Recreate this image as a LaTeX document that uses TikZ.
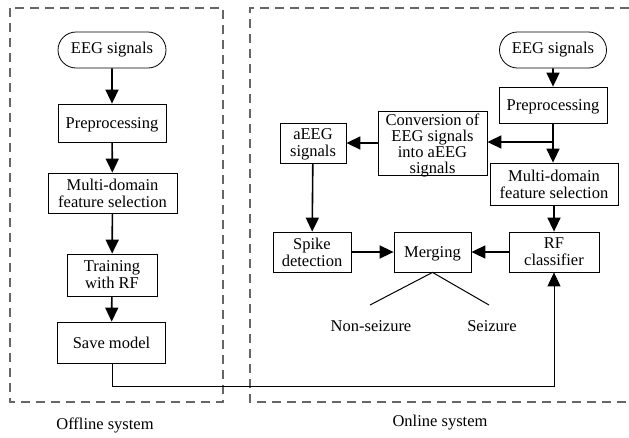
\documentclass[tikz,border=0pt]{standalone}
\usepackage{fontspec}
\setmainfont{Liberation Serif}
\usetikzlibrary{arrows.meta,shapes.misc}
\begin{document}
\begin{tikzpicture}[x=1pt,y=-1pt,
  every node/.style={font=\fontsize{16.5}{17}\selectfont, inner sep=0pt, align=center},
  box/.style={draw, line width=0.8pt, text depth=0pt},
  term/.style={draw, line width=0.8pt, rounded rectangle},
  flow/.style={line width=1.6pt, -{Triangle[length=14pt,width=13pt]}},
  thinflow/.style={line width=1pt, -{Triangle[length=14pt,width=13pt]}},
  frame/.style={draw=black!60, line width=1.3pt, dash pattern=on 9pt off 6pt},
  lbl/.style={}]
\useasboundingbox (0,0) rectangle (629,437);
% frames
\draw[frame] (10,8) rectangle (223,402);
\draw[frame] (629,8) -- (250,8) -- (250,402) -- (629,402);
\node[lbl] (offl) at (105,425) {Offline system};
\node[lbl] (onl) at (440,423) {Online system};
% offline column
\node[term, minimum width=108pt, minimum height=36pt] (lEEG) at (112,50) {EEG signals};
\node[box, minimum width=108pt, minimum height=38pt] (lPre) at (112,123) {Preprocessing};
\node[box, minimum width=129pt, minimum height=40pt] (lMulti) at (112.5,193) {Multi-domain\\feature selection};
\node[box, minimum width=90pt, minimum height=42pt] (lTrain) at (112,275) {Training\\with RF};
\node[box, minimum width=108pt, minimum height=41pt] (lSave) at (111.5,342.5) {Save model};
\draw[flow] (lEEG) -- (lPre);
\draw[flow] (lPre) -- (lMulti);
\draw[flow] (lMulti) -- (lTrain);
\draw[flow] (lTrain) -- (lSave);
% online
\node[term, minimum width=107pt, minimum height=36pt] (rEEG) at (553,50) {EEG signals};
\node[box, minimum width=108pt, minimum height=36pt] (rPre) at (553,105) {Preprocessing};
\node[box, minimum width=109pt, minimum height=64pt, font=\fontsize{16.5}{16}\selectfont] (conv) at (432.5,143.5) {Conversion of\\EEG signals\\into aEEG\\signals};
\node[box, minimum width=66pt, minimum height=40pt] (aeeg) at (313,143) {aEEG\\signals};
\node[box, minimum width=128pt, minimum height=42pt] (rMulti) at (554,184) {Multi-domain\\feature selection};
\node[box, minimum width=78pt, minimum height=40pt] (spike) at (312,252) {Spike\\detection};
\node[box, minimum width=77pt, minimum height=40pt] (merge) at (432.5,252) {Merging};
\node[box, minimum width=90pt, minimum height=40pt] (rf) at (554,252) {RF\\classifier};
\node[lbl] (nons) at (371,326) {Non-seizure};
\node[lbl] (seiz) at (492,326) {Seizure};
\coordinate (split) at (553,142);
\coordinate (nonsE) at (370,305);
\coordinate (seizE) at (489,305);
\draw[flow] (rEEG) -- (rPre);
\draw[flow] (rPre.south -| split) -- (rMulti.north -| split);
\draw[flow] (split) -- (conv.east |- split);
\draw[flow] (conv.west |- aeeg) -- (aeeg.east);
\draw[flow] (aeeg) -- (spike);
\draw[flow] (rMulti.south -| rf) -- (rf);
\draw[flow] (spike) -- (merge);
\draw[flow] (rf) -- (merge);
\draw[line width=1pt] (nonsE) -- (merge.south) -- (seizE);
\draw[thinflow] (lSave.south -| 112,0) |- (rf.south |- 0,386) -- (rf.south);
\end{tikzpicture}
\end{document}
